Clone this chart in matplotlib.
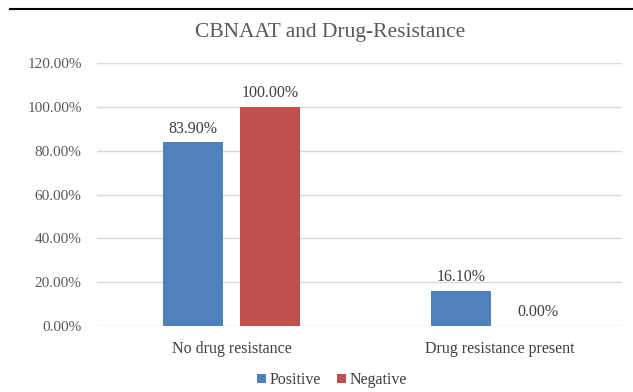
import matplotlib
matplotlib.use("Agg")
import matplotlib.pyplot as plt
from matplotlib.lines import Line2D
from matplotlib.patches import Patch

plt.rcParams['font.family'] = ['Liberation Serif', 'DejaVu Serif']

categories = ["No drug resistance", "Drug resistance present"]
series_names = ["Positive", "Negative"]
positive = [83.90, 16.10]
negative = [100.00, 0.00]
y_ticks = [0, 20, 40, 60, 80, 100, 120]
title = "CBNAAT and Drug-Resistance"

colors = ["#4F81BD", "#C0504D"]
text_gray = "#595959"

fig = plt.figure(figsize=(6.33, 3.92), dpi=100)
ax = fig.add_axes([97 / 633, 66 / 392, 525 / 633, 263 / 392])

x = list(range(len(categories)))
width = 0.224
offset = 0.144
for vals, dx, col in [(positive, -offset, colors[0]), (negative, offset, colors[1])]:
    xs = [xi + dx for xi in x]
    bars = ax.bar(xs, [v / 100 for v in vals], width=width, color=col, zorder=3)
    for b, v in zip(bars, vals):
        ax.annotate(f"{v:.2f}%", (b.get_x() + b.get_width() / 2, b.get_height()),
                    xytext=(0, 4), textcoords="offset points", ha="center", va="bottom",
                    fontsize=11.5, color="#404040")

ax.set_xlim(-0.503, 1.456)
ax.set_ylim(0, 1.2)
ax.set_yticks([t / 100 for t in y_ticks])
ax.set_yticklabels([f"{t:.2f}%" for t in y_ticks], fontsize=11, color=text_gray)
ax.set_xticks(x)
ax.set_xticklabels(categories, fontsize=11.5, color="#404040")
ax.tick_params(axis="both", length=0)
ax.tick_params(axis="y", pad=11)
ax.tick_params(axis="x", pad=11)
ax.grid(axis="y", color="#D9D9D9", linewidth=1, zorder=0)
for s in ax.spines.values():
    s.set_visible(False)

fig.text(330 / 633, 1 - 32 / 392, title, ha="center", va="center",
         fontsize=15.5, color=text_gray)

# page rule across the top
fig.add_artist(Line2D([10 / 633, 1], [1 - 9 / 392, 1 - 9 / 392],
                      color="black", linewidth=1.5, transform=fig.transFigure))

handles = [Patch(facecolor=c, edgecolor="none") for c in colors]
fig.legend(handles, series_names, loc="center", bbox_to_anchor=(332 / 633, 1 - 380 / 392),
           ncol=2, frameon=False, fontsize=11.5, handlelength=0.55, handleheight=0.55,
           handletextpad=0.25, columnspacing=1.0, labelcolor="#404040")

fig.savefig("out.png", dpi=100)
